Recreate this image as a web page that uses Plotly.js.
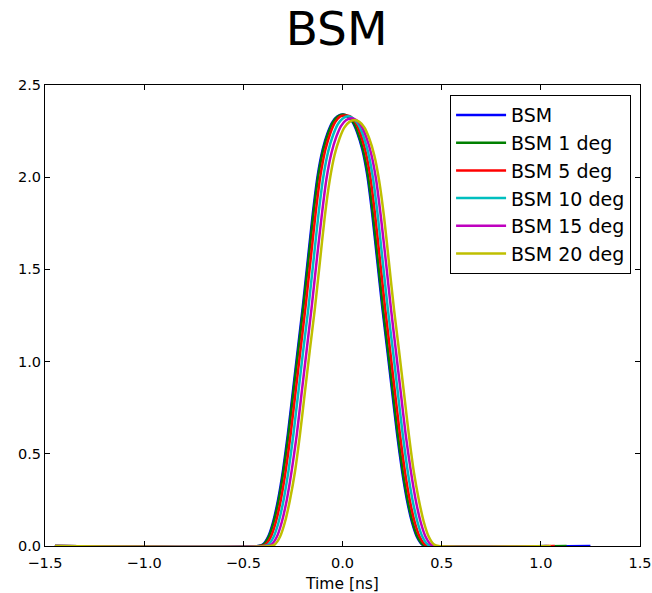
<!DOCTYPE html>
<html>
<head>
<meta charset="utf-8">
<script src="https://cdn.plot.ly/plotly-3.0.1.min.js"></script>
<style>html,body{margin:0;padding:0;background:#fff;}#chart{width:652px;height:593px;}</style>
</head>
<body>
<div id="chart"></div>
<script>
// Series names and colours
var seriesNames = ["BSM", "BSM 1 deg", "BSM 5 deg", "BSM 10 deg", "BSM 15 deg", "BSM 20 deg"];
var seriesColors = ["#0000ff", "#008000", "#ff0000", "#00bfbf", "#bf00bf", "#bfbf00"];

// Time samples [ns]
var timeBSM = [-1.45, -0.425, -0.4, -0.375, -0.35, -0.325, -0.3, -0.275, -0.25, -0.225, -0.2, -0.175, -0.15, -0.125, -0.1, -0.075, -0.05, -0.025, 0.0, 0.025, 0.05, 0.075, 0.1, 0.125, 0.15, 0.175, 0.2, 0.225, 0.25, 0.275, 0.3, 0.325, 0.35, 0.375, 0.4, 0.425, 1.25];
var time1deg = [-1.45, -0.422, -0.397, -0.372, -0.347, -0.322, -0.297, -0.272, -0.247, -0.222, -0.197, -0.172, -0.147, -0.122, -0.097, -0.072, -0.047, -0.022, 0.003, 0.028, 0.053, 0.078, 0.103, 0.128, 0.153, 0.178, 0.203, 0.228, 0.253, 0.278, 0.303, 0.328, 0.353, 0.378, 0.403, 0.428, 1.13];
var time5deg = [-1.45, -0.411, -0.386, -0.361, -0.336, -0.311, -0.286, -0.261, -0.236, -0.211, -0.186, -0.161, -0.136, -0.111, -0.086, -0.061, -0.036, -0.011, 0.014, 0.039, 0.064, 0.089, 0.114, 0.139, 0.164, 0.189, 0.214, 0.239, 0.264, 0.289, 0.314, 0.339, 0.364, 0.389, 0.414, 0.439, 1.07];
var time10deg = [-1.45, -0.397, -0.372, -0.347, -0.322, -0.297, -0.272, -0.247, -0.222, -0.197, -0.172, -0.147, -0.122, -0.097, -0.072, -0.047, -0.022, 0.003, 0.028, 0.053, 0.078, 0.103, 0.128, 0.153, 0.178, 0.203, 0.228, 0.253, 0.278, 0.303, 0.328, 0.353, 0.378, 0.403, 0.428, 0.453, 1.03];
var time15deg = [-1.45, -0.381, -0.356, -0.331, -0.306, -0.281, -0.256, -0.231, -0.206, -0.181, -0.156, -0.131, -0.106, -0.081, -0.056, -0.031, -0.006, 0.019, 0.044, 0.069, 0.094, 0.119, 0.144, 0.169, 0.194, 0.219, 0.244, 0.269, 0.294, 0.319, 0.344, 0.369, 0.394, 0.419, 0.444, 0.469, 1.04];
var time20deg = [-1.45, -0.365, -0.34, -0.315, -0.29, -0.265, -0.24, -0.215, -0.19, -0.165, -0.14, -0.115, -0.09, -0.065, -0.04, -0.015, 0.01, 0.035, 0.06, 0.085, 0.11, 0.135, 0.16, 0.185, 0.21, 0.235, 0.26, 0.285, 0.31, 0.335, 0.36, 0.385, 0.41, 0.435, 0.46, 0.485, 1.05];

// Amplitude values
var valBSM = [0, 0, 0.01, 0.05, 0.13, 0.25, 0.41, 0.61, 0.84, 1.07, 1.30, 1.55, 1.80, 2.01, 2.15, 2.24, 2.30, 2.33, 2.34, 2.33, 2.30, 2.24, 2.15, 2.01, 1.80, 1.55, 1.30, 1.07, 0.84, 0.61, 0.41, 0.25, 0.13, 0.05, 0.01, 0, 0];
var val1deg = [0, 0, 0.01, 0.05, 0.13, 0.25, 0.41, 0.61, 0.84, 1.07, 1.30, 1.55, 1.80, 2.01, 2.15, 2.24, 2.30, 2.33, 2.34, 2.33, 2.30, 2.24, 2.15, 2.01, 1.80, 1.55, 1.30, 1.07, 0.84, 0.61, 0.41, 0.25, 0.13, 0.05, 0.01, 0, 0];
var val5deg = [0, 0, 0.01, 0.05, 0.13, 0.25, 0.41, 0.61, 0.84, 1.07, 1.30, 1.55, 1.80, 2.01, 2.15, 2.24, 2.30, 2.33, 2.335, 2.33, 2.30, 2.24, 2.15, 2.01, 1.80, 1.55, 1.30, 1.07, 0.84, 0.61, 0.41, 0.25, 0.13, 0.05, 0.01, 0, 0];
var val10deg = [0, 0, 0.01, 0.05, 0.13, 0.25, 0.41, 0.61, 0.84, 1.07, 1.29, 1.54, 1.79, 2.00, 2.14, 2.23, 2.29, 2.32, 2.33, 2.32, 2.29, 2.23, 2.14, 2.00, 1.79, 1.54, 1.29, 1.07, 0.84, 0.61, 0.41, 0.25, 0.13, 0.05, 0.01, 0, 0];
var val15deg = [0, 0, 0.01, 0.05, 0.13, 0.25, 0.41, 0.60, 0.83, 1.06, 1.29, 1.54, 1.78, 1.99, 2.13, 2.22, 2.28, 2.31, 2.32, 2.31, 2.28, 2.22, 2.13, 1.99, 1.78, 1.54, 1.29, 1.06, 0.83, 0.60, 0.41, 0.25, 0.13, 0.05, 0.01, 0, 0];
var val20deg = [0, 0, 0.01, 0.05, 0.13, 0.25, 0.40, 0.60, 0.83, 1.06, 1.28, 1.53, 1.78, 1.98, 2.12, 2.21, 2.27, 2.30, 2.31, 2.30, 2.27, 2.21, 2.12, 1.98, 1.78, 1.53, 1.28, 1.06, 0.83, 0.60, 0.40, 0.25, 0.13, 0.05, 0.01, 0, 0];

// Axis ticks
var xTicks = [-1.5, -1.0, -0.5, 0.0, 0.5, 1.0, 1.5];
var xTickLabels = ["\u22121.5", "\u22121.0", "\u22120.5", "0.0", "0.5", "1.0", "1.5"];
var yTicks = [0.0, 0.5, 1.0, 1.5, 2.0, 2.5];
var yTickLabels = ["0.0", "0.5", "1.0", "1.5", "2.0", "2.5"];

var times = [timeBSM, time1deg, time5deg, time10deg, time15deg, time20deg];
var vals = [valBSM, val1deg, val5deg, val10deg, val15deg, val20deg];

var traces = seriesNames.map(function (name, i) {
  return {
    type: "scatter",
    mode: "lines",
    name: name,
    x: times[i],
    y: vals[i],
    line: { color: seriesColors[i], width: 2.5, shape: "spline", smoothing: 0.6 },
    cliponaxis: true
  };
});

var font = "DejaVu Sans, Liberation Sans, sans-serif";

var layout = {
  width: 652,
  height: 593,
  margin: { l: 45, r: 12, t: 85, b: 47 },
  paper_bgcolor: "#ffffff",
  plot_bgcolor: "#ffffff",
  font: { family: font, size: 14, color: "#000000" },
  title: {
    text: "BSM",
    font: { family: font, size: 47, color: "#000000" },
    xref: "paper", x: 0.49, xanchor: "center",
    yref: "container", y: 0.952, yanchor: "middle"
  },
  showlegend: true,
  legend: {
    x: 0.985, xanchor: "right",
    y: 0.978, yanchor: "top",
    bgcolor: "#ffffff",
    bordercolor: "#000000",
    borderwidth: 1,
    itemwidth: 50,
    font: { family: font, size: 19, color: "#000000" },
    tracegroupgap: 0
  },
  xaxis: {
    range: [-1.5, 1.5],
    tickmode: "array",
    tickvals: xTicks,
    ticktext: xTickLabels,
    ticks: "inside",
    ticklen: 5,
    tickcolor: "#000000",
    ticklabelstandoff: 4,
    showline: true,
    linecolor: "#000000",
    linewidth: 1,
    mirror: "ticks",
    showgrid: false,
    zeroline: false,
    tickfont: { family: font, size: 14.5, color: "#000000" },
    title: { text: "Time [ns]", font: { family: font, size: 15.5, color: "#000000" }, standoff: 10 }
  },
  yaxis: {
    range: [0, 2.5],
    tickmode: "array",
    tickvals: yTicks,
    ticktext: yTickLabels,
    ticks: "inside",
    ticklen: 5,
    tickcolor: "#000000",
    showline: true,
    linecolor: "#000000",
    linewidth: 1,
    mirror: "ticks",
    showgrid: false,
    zeroline: false,
    tickfont: { family: font, size: 14.5, color: "#000000" }
  }
};

Plotly.newPlot("chart", traces, layout, { staticPlot: true, displayModeBar: false });
</script>
</body>
</html>
